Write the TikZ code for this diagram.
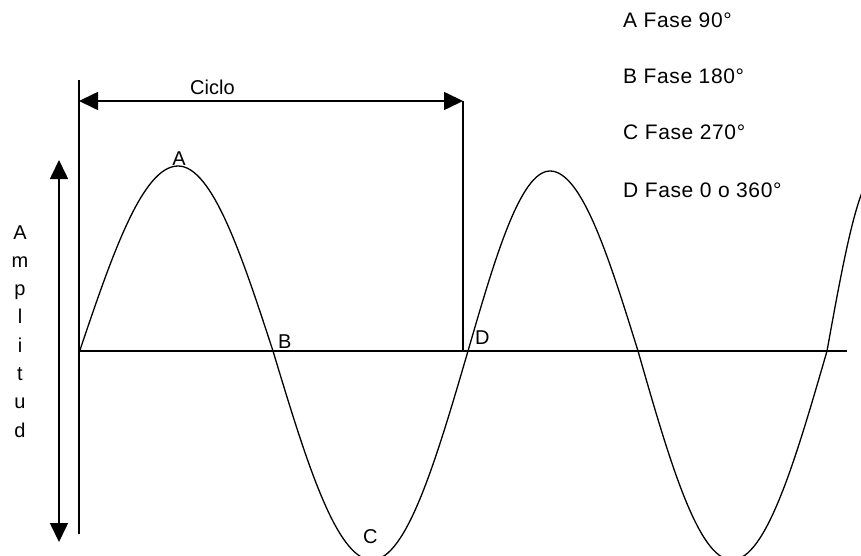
\documentclass[tikz,border=0pt]{standalone}
\usepackage{fontspec}
\setmainfont{Liberation Sans}
\newfontfamily\legfont[LetterSpace=3]{Liberation Sans}
\usetikzlibrary{arrows.meta}
\begin{document}
\begin{tikzpicture}[x=1pt,y=-1pt,
  axisline/.style={line width=1.6pt,black},
  wave/.style={line width=1.3pt,black},
  lbl/.style={inner sep=0pt,font=\fontsize{20}{24}\selectfont},
  leg/.style={inner sep=0pt,anchor=base west,font=\legfont\fontsize{21}{25}\selectfont},
]
\useasboundingbox (0,0) rectangle (861,556);
% coordinates
\coordinate (vtop) at (79,80);
\coordinate (vbot) at (79,534);
\coordinate (hleft) at (79,351);
\coordinate (hright) at (847,351);
\coordinate (cycL) at (79,101);
\coordinate (cycR) at (463,101);
\coordinate (cycB) at (463,351);
\coordinate (ampT) at (59,160);
\coordinate (ampB) at (59,542);
% axes
\draw[axisline] (vtop) -- (vbot);
\draw[axisline] (hleft) -- (hright);
% cycle arrow
\draw[axisline,{Triangle[length=19pt,width=18pt]}-{Triangle[length=19pt,width=18pt]}] (cycL) -- (cycR);
\draw[axisline] (cycR) -- (cycB);
% amplitude arrow
\draw[axisline,{Triangle[length=19pt,width=18pt]}-{Triangle[length=19pt,width=18pt]}] (ampT) -- (ampB);
% wave
\begin{scope}
\clip (0,0) rectangle (861,556);
\draw[wave] (79,353) sin (178,166) cos (273,351) sin (372,560) cos (468,351)
  sin (550,171) cos (638,351) sin (732,560) cos (827,351) sin (878,171);
\end{scope}
% labels
\node[lbl,anchor=base west] (ciclo) at (190,95) {Ciclo};
\node[lbl,anchor=base] (la) at (179,166) {A};
\node[lbl,anchor=base west] (lb) at (278,348) {B};
\node[lbl,anchor=base west] (lc) at (363,543) {C};
\node[lbl,anchor=base west] (ld) at (475,344) {D};
\node[leg] (leg1) at (623,28) {A Fase 90°};
\node[leg] (leg2) at (623,84) {B Fase 180°};
\node[leg] (leg3) at (623,140) {C Fase 270°};
\node[leg] (leg4) at (623,197) {D Fase 0 o 360°};
\foreach \ch [count=\i from 0] in {A,m,p,l,i,t,u,d}
  \node[lbl,anchor=base] (amp\i) at (20,239+28.3*\i) {\ch};
\end{tikzpicture}
\end{document}
